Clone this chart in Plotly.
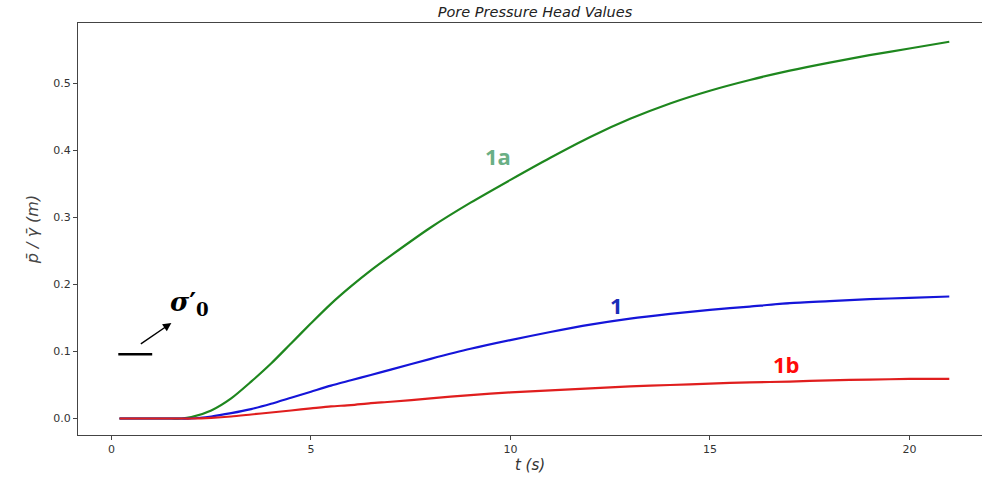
import plotly.graph_objects as go

# time axis (s)
t = [0.2, 0.5, 1.0, 1.5, 1.75, 2.0, 2.5, 3.0, 3.5, 4.0, 4.5, 5.0, 5.5, 6.0, 6.5, 7.0,
     8.0, 9.0, 10.0, 11.0, 12.0, 13.0, 14.0, 15.0, 16.0, 17.0, 18.0, 19.0, 20.0, 21.0]

# pore pressure head values (m)
head_1a = [0, 0, 0, 0, 0, 0.002, 0.012, 0.03, 0.055, 0.082, 0.112, 0.142, 0.171, 0.197,
           0.221, 0.243, 0.285, 0.322, 0.356, 0.389, 0.420, 0.447, 0.470, 0.489, 0.505,
           0.519, 0.531, 0.542, 0.552, 0.562]
head_1 = [0, 0, 0, 0, 0, 0, 0.003, 0.008, 0.014, 0.022, 0.031, 0.040, 0.049, 0.057, 0.065,
          0.073, 0.089, 0.104, 0.117, 0.129, 0.140, 0.149, 0.156, 0.162, 0.167, 0.172,
          0.175, 0.178, 0.180, 0.182]
head_1b = [0, 0, 0, 0, 0, 0, 0.001, 0.003, 0.006, 0.009, 0.012, 0.015, 0.018, 0.020, 0.023,
           0.025, 0.030, 0.035, 0.039, 0.042, 0.045, 0.048, 0.050, 0.052, 0.054, 0.055,
           0.057, 0.058, 0.059, 0.059]

# initial effective stress marker
sigma_t = [0.17, 1.02]
sigma_y = [0.096, 0.096]

x_ticks = [0, 5, 10, 15, 20]
y_ticks = [0.0, 0.1, 0.2, 0.3, 0.4, 0.5]

series = [("1a", head_1a, "#1e871e"), ("1", head_1, "#1515d9"), ("1b", head_1b, "#e01e1e")]

fig = go.Figure()
for name, vals, col in series:
    fig.add_trace(go.Scatter(x=t, y=vals, mode="lines", name=name,
                             line=dict(color=col, width=2.2, shape="spline", smoothing=0.7),
                             showlegend=False))
fig.add_trace(go.Scatter(x=sigma_t, y=sigma_y, mode="lines",
                         line=dict(color="black", width=2.5), showlegend=False))

labels = [("1a", 9.68, 0.392, "#6aaf85"), ("1", 12.66, 0.169, "#1a2db8"), ("1b", 16.93, 0.081, "#ff0a0a")]
for txt, lx, ly, col in labels:
    fig.add_annotation(x=lx, y=ly, text="<b>%s</b>" % txt, showarrow=False,
                       font=dict(family="Open Sans", size=22, color=col))

fig.add_annotation(x=1.5, y=0.1425, ax=-32, ay=22, text="", showarrow=True,
                   arrowhead=2, arrowsize=1.2, arrowwidth=1.4, arrowcolor="black")
fig.add_annotation(x=1.95, y=0.172, text="<b><i>σ</i>′<sub>0</sub></b>", showarrow=False,
                   font=dict(family="DejaVu Serif", size=26, color="black"))

fig.update_layout(
    width=982, height=486,
    margin=dict(l=78, r=0, t=23, b=51),
    paper_bgcolor="white", plot_bgcolor="white",
    title=dict(text="<i>Pore Pressure Head Values</i>", xref="paper", x=0.5055, xanchor="center",
               y=0.985, yanchor="top",
               font=dict(family="DejaVu Sans", size=14.5, color="#222")),
    font=dict(family="DejaVu Sans", color="#333"),
)
fig.update_xaxes(range=[-0.84, 21.82], tickvals=x_ticks, ticks="outside", ticklen=4,
                 tickcolor="#444", showline=True, linecolor="#444", linewidth=1.2,
                 mirror=True, showgrid=False, zeroline=False,
                 tickfont=dict(size=11, color="#333"),
                 title=dict(text="<i>t (s)</i>", font=dict(family="DejaVu Sans", size=15, color="#333"),
                            standoff=4))
fig.update_yaxes(range=[-0.0246, 0.590], tickvals=y_ticks, tickformat=".1f",
                 ticks="outside", ticklen=4, tickcolor="#444", showline=True,
                 linecolor="#444", linewidth=1.2, showgrid=False, zeroline=False,
                 tickfont=dict(size=11, color="#333"),
                 title=dict(text="<i>p̄ / γ̄ (m)</i>", font=dict(family="DejaVu Sans", size=16, color="#444"),
                            standoff=10))

fig.write_html("out.html", config={"displayModeBar": False},
               post_script="document.body.style.margin='0';document.body.style.padding='0';document.body.style.overflow='hidden';")
